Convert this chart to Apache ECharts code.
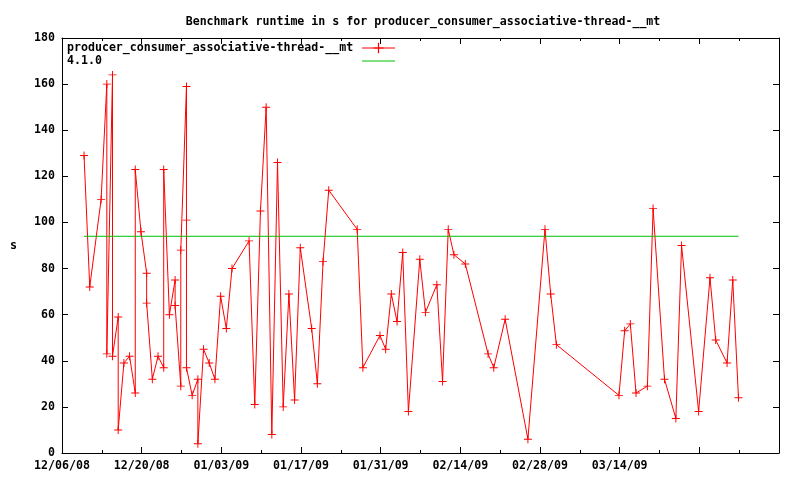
<!DOCTYPE html>
<html><head><meta charset="utf-8">
<script src="https://cdn.jsdelivr.net/npm/echarts@6/dist/echarts.min.js"></script>
<style>html,body{margin:0;padding:0;background:#fff}#c{width:800px;height:480px}</style>
</head><body><div id="c"></div>
<script>
const titleText = 'Benchmark runtime in s for producer_consumer_associative-thread-__mt';
const seriesName = 'producer_consumer_associative-thread-__mt';
const refName = '4.1.0';
const yAxisName = 's';

const runDates = [
 '2008-12-09 21:00','2008-12-10 21:00','2008-12-12 21:00','2008-12-13 21:00','2008-12-13 21:00',
 '2008-12-14 21:00','2008-12-14 21:00','2008-12-15 21:00','2008-12-15 21:00','2008-12-16 21:00',
 '2008-12-17 21:00','2008-12-18 21:00','2008-12-18 21:00','2008-12-19 21:00','2008-12-20 21:00',
 '2008-12-20 21:00','2008-12-21 21:00','2008-12-22 21:00','2008-12-23 21:00','2008-12-23 21:00',
 '2008-12-24 21:00','2008-12-25 21:00','2008-12-25 21:00','2008-12-26 21:00','2008-12-26 21:00',
 '2008-12-27 21:00','2008-12-27 21:00','2008-12-27 21:00','2008-12-28 21:00','2008-12-29 21:00',
 '2008-12-29 21:00','2008-12-30 21:00','2008-12-31 21:00','2009-01-01 21:00','2009-01-02 21:00',
 '2009-01-03 21:00','2009-01-04 21:00','2009-01-07 21:00','2009-01-08 21:00','2009-01-09 21:00',
 '2009-01-10 21:00','2009-01-11 21:00','2009-01-12 21:00','2009-01-13 21:00','2009-01-14 21:00',
 '2009-01-15 21:00','2009-01-16 21:00','2009-01-18 21:00','2009-01-19 21:00','2009-01-20 21:00',
 '2009-01-21 21:00','2009-01-26 21:00','2009-01-27 21:00','2009-01-30 21:00','2009-01-31 21:00',
 '2009-02-01 21:00','2009-02-02 21:00','2009-02-03 21:00','2009-02-04 21:00','2009-02-06 21:00',
 '2009-02-07 21:00','2009-02-09 21:00','2009-02-10 21:00','2009-02-11 21:00','2009-02-12 21:00',
 '2009-02-14 21:00','2009-02-18 21:00','2009-02-19 21:00','2009-02-21 21:00','2009-02-25 21:00',
 '2009-02-28 21:00','2009-03-01 21:00','2009-03-02 21:00','2009-03-13 21:00','2009-03-14 21:00',
 '2009-03-15 21:00','2009-03-16 21:00','2009-03-18 21:00','2009-03-19 21:00','2009-03-21 21:00',
 '2009-03-23 21:00','2009-03-24 21:00','2009-03-27 21:00','2009-03-29 21:00','2009-03-30 21:00',
 '2009-04-01 21:00','2009-04-02 21:00','2009-04-03 21:00'
];
const runtimes = [
 129, 72, 110, 160, 43,
 164, 42, 59, 10, 39,
 42, 26, 123, 96, 78,
 65, 32, 42, 37, 123,
 60, 75, 64, 29, 88,
 159, 101, 37, 25, 32,
 4, 45, 39, 32, 68,
 54, 80, 92, 21, 105,
 150, 8, 126, 20, 69,
 23, 89, 54, 30, 83,
 114, 97, 37, 51, 45,
 69, 57, 87, 18, 84,
 61, 73, 31, 97, 86,
 82, 43, 37, 58, 6,
 97, 69, 47, 25, 53,
 56, 26, 29, 106, 32,
 15, 90, 18, 76, 49,
 39, 75, 24
];
const refValue = 94;
const xStart = '2008-12-06 00:00';
const xEnd = '2009-04-11 00:00';
const lastLabelDate = '2009-03-14 00:00';

const DAY = 86400000;
function ts(s) {
  const [d, t] = s.split(' ');
  const [Y, M, D] = d.split('-').map(Number);
  const [h, m] = (t || '00:00').split(':').map(Number);
  return Date.UTC(Y, M - 1, D, h, m);
}
function pad(n) { return (n < 10 ? '0' : '') + n; }
const xMin = ts(xStart), xMax = ts(xEnd), xLast = ts(lastLabelDate);
function fmtDate(v) {
  if (v > xLast + 1000) return '';
  const d = new Date(v);
  return pad(d.getUTCMonth() + 1) + '/' + pad(d.getUTCDate()) + '/' + pad(d.getUTCFullYear() % 100);
}

const runData = runDates.map((d, i) => [ts(d), runtimes[i]]);
const refData = [[ts(runDates[0]), refValue], [ts(runDates[runDates.length - 1]), refValue]];

const FONT = 'DejaVu Sans Mono';
const txt = { fontFamily: FONT, fontWeight: 'bold', fontSize: 11.6, color: '#000' };
const plus = 'path://M4.4,0 H5.6 V4.4 H10 V5.6 H5.6 V10 H4.4 V5.6 H0 V4.4 H4.4 Z';

function xAx(pos, showLabel) {
  return {
    type: 'value', position: pos, min: xMin, max: xMax, interval: 14 * DAY,
    axisLine: { show: true, onZero: false, lineStyle: { color: '#000', width: 1 } },
    axisTick: { show: true, inside: true, length: 6, lineStyle: { color: '#000' } },
    minorTick: { show: true, splitNumber: 2, length: 3, lineStyle: { color: '#000' } },
    splitLine: { show: false }, minorSplitLine: { show: false },
    axisLabel: Object.assign({ show: showLabel, margin: 7, formatter: fmtDate, hideOverlap: false }, txt)
  };
}
function yAx(pos, showLabel) {
  return {
    type: 'value', position: pos, min: 0, max: 180, interval: 20,
    name: showLabel ? yAxisName : '', nameLocation: 'middle', nameRotate: 0, nameGap: 45,
    nameTextStyle: txt,
    axisLine: { show: true, onZero: false, lineStyle: { color: '#000', width: 1 } },
    axisTick: { show: true, inside: true, length: 6, lineStyle: { color: '#000' } },
    splitLine: { show: false },
    axisLabel: Object.assign({ show: showLabel, margin: 7 }, txt)
  };
}

const chart = echarts.init(document.getElementById('c'), null, { renderer: 'canvas' });
chart.setOption({
  animation: false,
  backgroundColor: '#fff',
  title: { text: titleText, left: 418, top: 11, textAlign: 'center', textStyle: Object.assign({}, txt) },
  grid: { left: 62, right: 21, top: 38, bottom: 27, containLabel: false },
  legend: {
    left: 67, top: 42, orient: 'vertical', align: 'right', padding: 0,
    itemWidth: 33, itemHeight: 13, itemGap: 1,
    data: [
      { name: seriesName, lineStyle: { color: '#ff0000', width: 1 } },
      { name: refName, itemStyle: { opacity: 0 }, lineStyle: { color: '#00c000', width: 1 } }
    ],
    formatter: n => '{a|' + n + '}',
    textStyle: Object.assign({ rich: { a: Object.assign({ width: 290, align: 'left' }, txt) } }, txt)
  },
  xAxis: [xAx('bottom', true), xAx('top', false)],
  yAxis: [yAx('left', true), yAx('right', false)],
  series: [
    { name: seriesName, type: 'line', xAxisIndex: 0, yAxisIndex: 0, data: runData,
      color: '#ff0000', symbol: plus, symbolSize: 8, showAllSymbol: true,
      lineStyle: { color: '#ff0000', width: 1 }, itemStyle: { color: '#ff0000' } },
    { name: refName, type: 'line', xAxisIndex: 0, yAxisIndex: 0, data: refData,
      color: '#00c000', symbol: 'none', lineStyle: { color: '#00c000', width: 1 } }
  ]
});
</script></body></html>
